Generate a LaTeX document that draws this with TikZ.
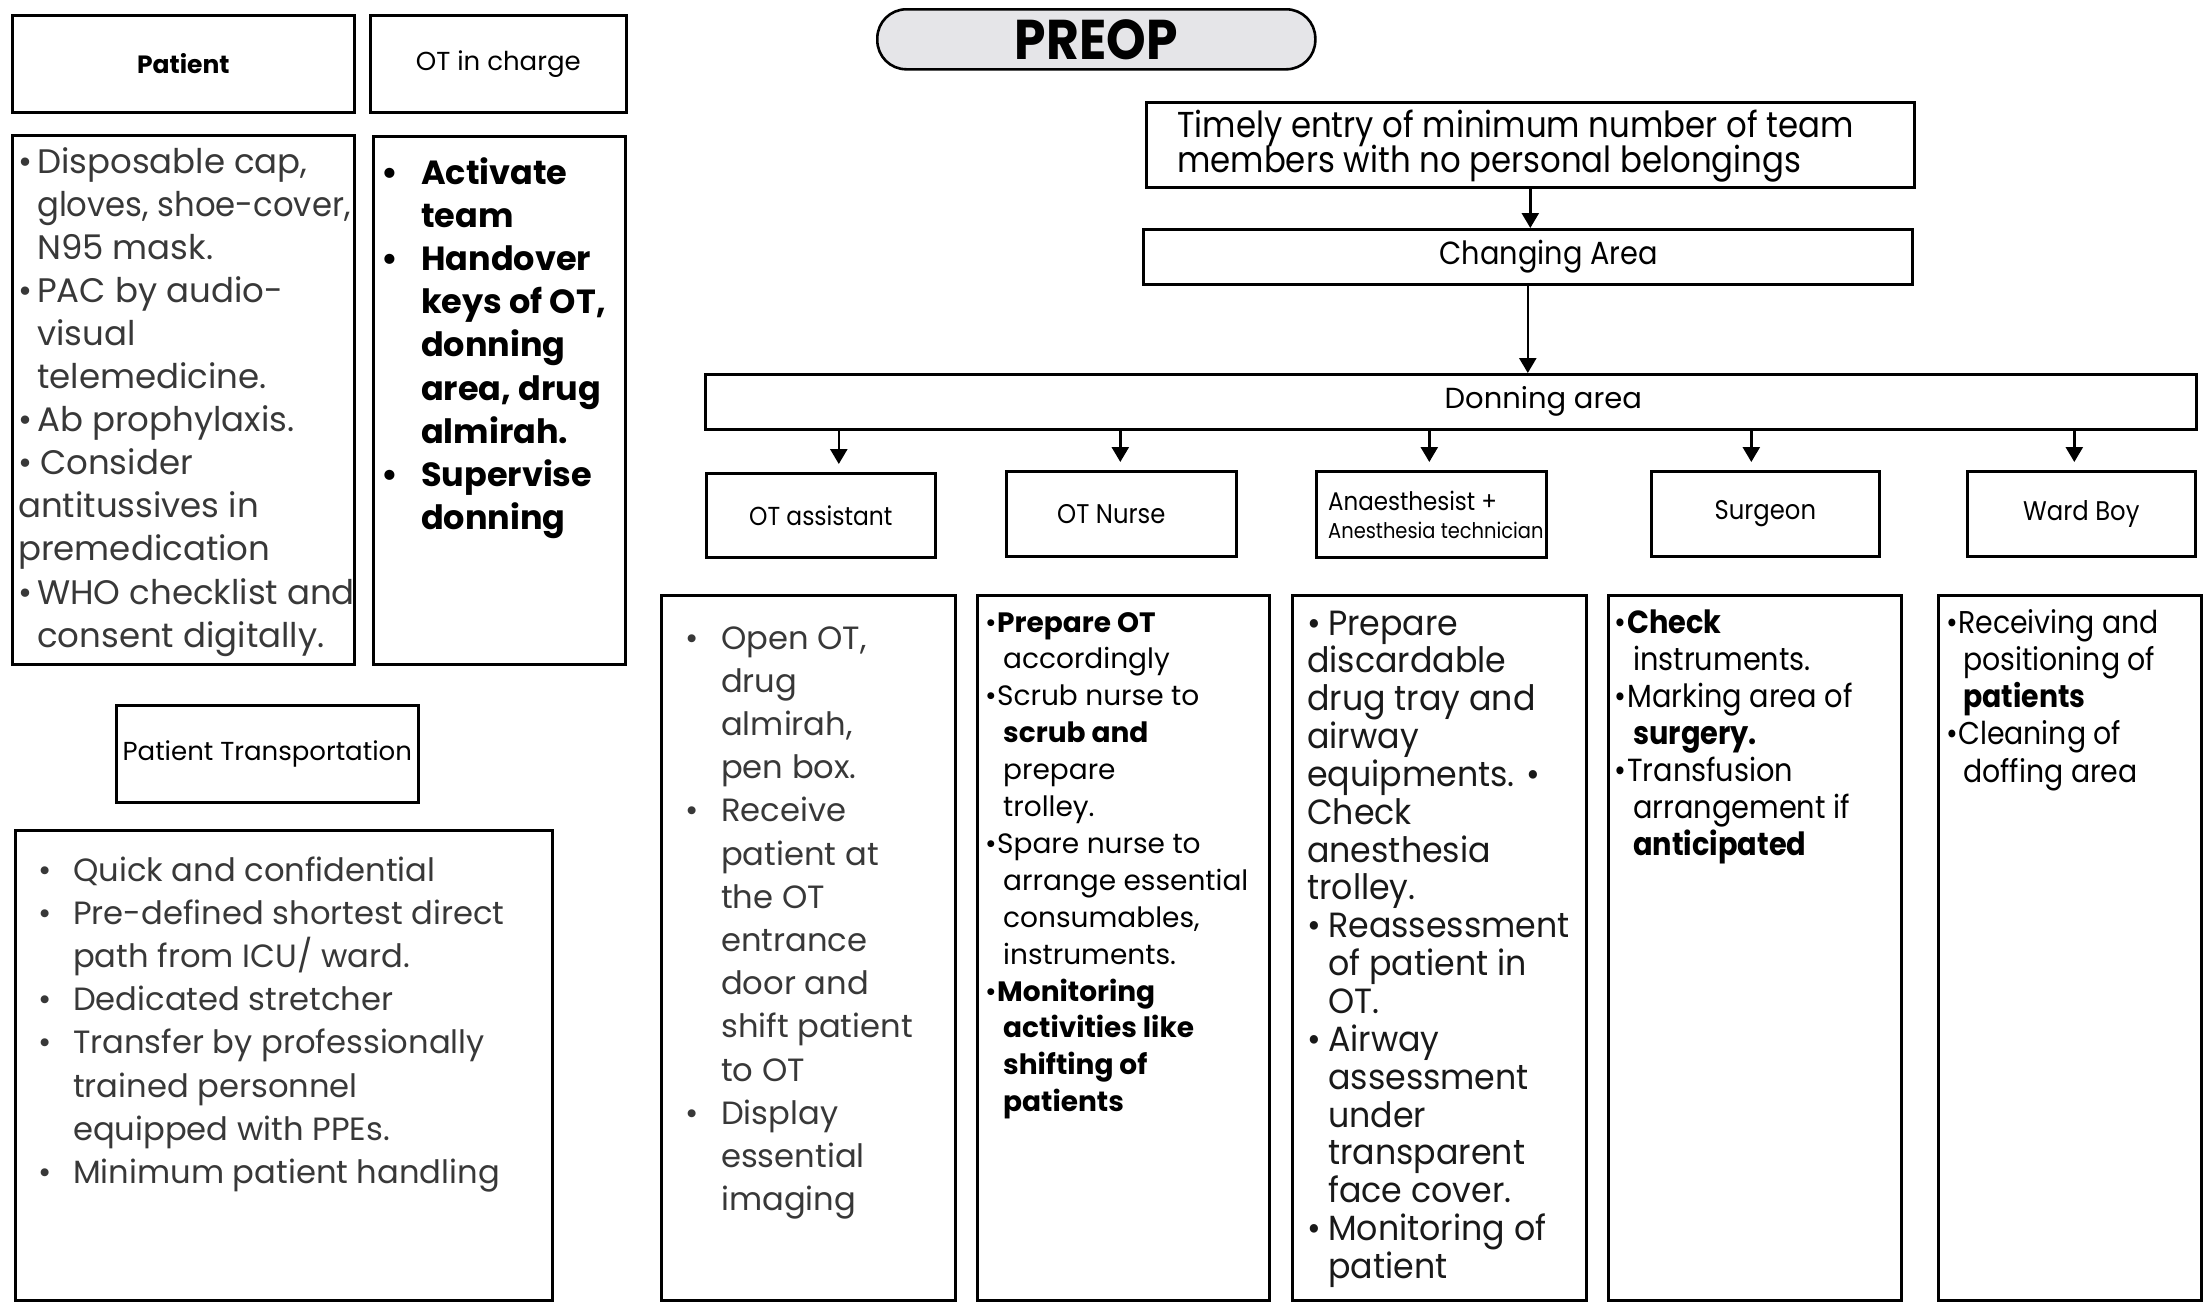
\documentclass[tikz,border=0pt]{standalone}
\usepackage{fontspec}
\usepackage{graphicx}
\setmainfont{Poppins}
\newfontfamily\cnd{Poppins}[FakeStretch=0.9]
\newfontfamily\cnda{Poppins}[FakeStretch=0.95]
\usetikzlibrary{arrows.meta,calc}
\definecolor{txtg}{rgb}{0.22,0.22,0.22}
\definecolor{txtd}{rgb}{0.10,0.10,0.10}
\definecolor{pillfill}{rgb}{0.90,0.90,0.91}
\newcommand{\fsz}[2]{\fontsize{#1}{#2}\selectfont}
\newcommand{\blk}[2]{\vtop{\baselineskip=#1\lineskiplimit=-100pt\lineskip=0pt\relax\halign{##\hfil\cr#2\crcr}}}
\newcommand{\bu}[1]{\makebox[#1][l]{•}}
\newcommand{\ii}[1]{\hspace*{#1}}
\tikzset{
  box/.style={draw, line width=2.6pt, inner sep=0pt, anchor=north west},
  arr/.style={-{Triangle[width=17pt,length=15pt]}, line width=2.6pt},
  txt/.style={inner sep=0pt, anchor=base west},
}
\begin{document}
\begin{tikzpicture}[x=1pt,y=-1pt]
\useasboundingbox (0,0) rectangle (2208,1301);

% ---------- left column ----------
\node[box, minimum width=342, minimum height=97, font=\fsz{25}{28}\bfseries] (pathdr) at (11,14) {Patient};
\node[box, minimum width=256, minimum height=97, font=\fsz{26}{30}] (otichdr) at (369,14) {\raisebox{-3pt}{OT in charge}};
\node[box, minimum width=342, minimum height=529] (patbody) at (11,134) {};
\node[box, minimum width=252, minimum height=528] (oticbody) at (372,135) {};
\node[box, minimum width=302, minimum height=97, font=\fsz{26}{30}] (pthdr) at (115,704) {Patient Transportation};
\node[box, minimum width=537, minimum height=470] (ptbody) at (14,829) {};

\node[txt, text=txtg, font=\fsz{34}{43}] (pattxt) at (18,173) {\blk{43.1pt}{%
\bu{19pt}Disposable cap,\cr
\ii{19pt}\scalebox{0.95}[1]{gloves, shoe-cover,}\cr
\ii{19pt}N95 mask.\cr
\bu{19pt}PAC by audio-\cr
\ii{19pt}visual\cr
\ii{19pt}telemedicine.\cr
\bu{19pt}Ab prophylaxis.\cr
\bu{22pt}Consider\cr
antitussives in\cr
premedication\cr
\bu{19pt}WHO checklist and\cr
\ii{19pt}consent digitally.}};

\node[txt, font=\fsz{33.5}{43}\bfseries] (otictxt) at (381,184) {\blk{43.2pt}{%
\bu{40pt}Activate\cr
\ii{40pt}team\cr
\bu{40pt}Handover\cr
\ii{40pt}keys of OT,\cr
\ii{40pt}donning\cr
\ii{40pt}area, drug\cr
\ii{40pt}almirah.\cr
\bu{40pt}Supervise\cr
\ii{40pt}donning}};

\node[txt, text=txtg, font=\fsz{32.2}{43}] (pttxt) at (38,881) {\blk{43.2pt}{%
\bu{35pt}Quick and confidential\cr
\bu{35pt}Pre-defined shortest direct\cr
\ii{35pt}path from ICU/ ward.\cr
\bu{35pt}Dedicated stretcher\cr
\bu{35pt}Transfer by professionally\cr
\ii{35pt}trained personnel\cr
\ii{35pt}equipped with PPEs.\cr
\bu{35pt}Minimum patient handling}};

% ---------- flow column ----------
\node[box, fill=pillfill, rounded corners=29pt, minimum width=438, minimum height=60, font=\cnd\bfseries\fsz{56}{60}] (preop) at (876,8) {PREOP};
\node[box, minimum width=768, minimum height=85] (timely) at (1145,101) {};
\node[txt, font=\cnd\fsz{36}{35}] (timelytxt) at (1177,137) {\blk{35pt}{%
Timely entry of minimum number of team\cr
members with no personal belongings}};
\node[box, minimum width=769, minimum height=55, font=\cnd\fsz{32}{36}] (changing) at (1142,228) {\hspace*{42pt}Changing Area};
\node[box, minimum width=1491, minimum height=55, font=\fsz{29}{32}] (donning) at (704,373) {\hspace*{185pt}\raisebox{-3pt}{Donning area}};

\node[box, minimum width=229, minimum height=84, font=\cnd\fsz{26}{30}] (otahdr) at (705,472) {OT assistant};
\node[box, minimum width=230, minimum height=85, font=\cnd\fsz{27}{30}] (nursehdr) at (1005,470) {OT Nurse\hspace*{20pt}};
\node[box, minimum width=230, minimum height=86] (anaeshdr) at (1315,470) {};
\node[txt, font=\cnd] (anaeshdrtxt) at (1328,510) {\blk{28pt}{%
\fsz{25.5}{30}Anaesthesist +\cr
\fsz{21.6}{26}Anesthesia technician}};
\node[box, minimum width=228, minimum height=85, font=\cnd\fsz{27}{30}] (surghdr) at (1650,470) {Surgeon};
\node[box, minimum width=228, minimum height=85, font=\cnd\fsz{27}{30}] (wardhdr) at (1966,470) {Ward Boy};

\node[box, minimum width=294, minimum height=705] (otabody) at (660,594) {};
\node[box, minimum width=292, minimum height=705] (nursebody) at (976,594) {};
\node[box, minimum width=294, minimum height=705] (anaesbody) at (1291,594) {};
\node[box, minimum width=293, minimum height=705] (surgbody) at (1607,594) {};
\node[box, minimum width=263, minimum height=705] (wardbody) at (1937,594) {};

\node[txt, text=txtg, font=\fsz{32.2}{43}] (otatxt) at (685,649) {\blk{43.2pt}{%
\bu{36pt}Open OT,\cr
\ii{36pt}drug\cr
\ii{36pt}almirah,\cr
\ii{36pt}pen box.\cr
\bu{36pt}Receive\cr
\ii{36pt}patient at\cr
\ii{36pt}the OT\cr
\ii{36pt}entrance\cr
\ii{36pt}door and\cr
\ii{36pt}shift patient\cr
\ii{36pt}to OT\cr
\bu{36pt}Display\cr
\ii{36pt}essential\cr
\ii{36pt}imaging}};

\node[txt, font=\fsz{28}{37}] (nursetxt) at (985,632) {\blk{36.9pt}{%
\bu{12pt}\textbf{Prepare OT}\cr
\ii{18pt}accordingly\cr
\bu{12pt}Scrub nurse to\cr
\ii{18pt}\textbf{scrub and}\cr
\ii{18pt}prepare\cr
\ii{18pt}trolley.\cr
\bu{12pt}Spare nurse to\cr
\ii{18pt}arrange essential\cr
\ii{18pt}consumables,\cr
\ii{18pt}instruments.\cr
\bu{12pt}\textbf{Monitoring}\cr
\ii{18pt}\textbf{activities like}\cr
\ii{18pt}\textbf{shifting of}\cr
\ii{18pt}\textbf{patients}}};

\node[txt, text=txtd, font=\cnda\fsz{35}{38}] (anaestxt) at (1307,635) {\blk{37.85pt}{%
\bu{21pt}Prepare\cr
discardable\cr
drug tray and\cr
airway\cr
equipments. •\cr
Check\cr
anesthesia\cr
trolley.\cr
\bu{21pt}Reassessment\cr
\ii{21pt}of patient in\cr
\ii{21pt}OT.\cr
\bu{21pt}Airway\cr
\ii{21pt}assessment\cr
\ii{21pt}under\cr
\ii{21pt}transparent\cr
\ii{21pt}face cover.\cr
\bu{21pt}Monitoring of\cr
\ii{21pt}patient}};

\node[txt, font=\cnd\fsz{32}{37}] (surgtxt) at (1614,633) {\blk{37.1pt}{%
\bu{13pt}\textbf{Check}\cr
\ii{19pt}instruments.\cr
\bu{13pt}Marking area of\cr
\ii{19pt}\textbf{surgery.}\cr
\bu{13pt}Transfusion\cr
\ii{19pt}arrangement if\cr
\ii{19pt}\textbf{anticipated}}};

\node[txt, font=\cnd\fsz{31.5}{37}] (wardtxt) at (1946,633) {\blk{37.3pt}{%
\bu{12pt}Receiving and\cr
\ii{17pt}positioning of\cr
\ii{17pt}\textbf{patients}\cr
\bu{12pt}Cleaning of\cr
\ii{17pt}doffing area}};

% ---------- connectors ----------
\draw[arr] (timely.south) -- (timely.south |- changing.north);
\draw[arr] (changing.south) -- (changing.south |- donning.north);
\draw[arr] ($(otahdr.north |- donning.south)+(18,0)$) -- ($(otahdr.north)+(18,-8)$);
\draw[arr] ($(nursehdr.north |- donning.south)+(-1,0)$) -- ($(nursehdr.north)+(-1,-8)$);
\draw[arr] ($(anaeshdr.north |- donning.south)+(-2,0)$) -- ($(anaeshdr.north)+(-2,-8)$);
\draw[arr] ($(surghdr.north |- donning.south)+(-14,0)$) -- ($(surghdr.north)+(-14,-8)$);
\draw[arr] ($(wardhdr.north |- donning.south)+(-7,0)$) -- ($(wardhdr.north)+(-7,-8)$);
\end{tikzpicture}
\end{document}
